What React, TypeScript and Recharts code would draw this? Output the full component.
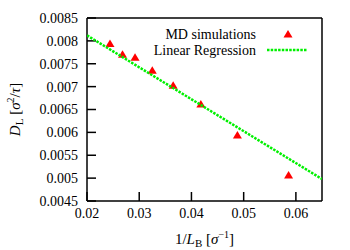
import React from 'react';
import { ScatterChart, Scatter, XAxis, YAxis, Legend } from 'recharts';

// MD simulation points: 1/L_B vs D_L
const invLB = [0.0244, 0.0268, 0.0292, 0.0325, 0.0365, 0.0418, 0.0488, 0.0586];
const diffL = [0.00794, 0.00771, 0.00764, 0.00736, 0.00703, 0.00662, 0.00594, 0.00507];

// linear regression end points
const fitX = [0.02, 0.065];
const fitY = [0.00812, 0.00498];

const xTicks = [0.02, 0.03, 0.04, 0.05, 0.06];
const yTicks = [0.0045, 0.005, 0.0055, 0.006, 0.0065, 0.007, 0.0075, 0.008, 0.0085];

const simData = invLB.map((x, i) => ({ x, y: diffL[i] }));
const fitData = fitX.map((x, i) => ({ x, y: fitY[i] }));

const FONT = '"Liberation Serif", "DejaVu Serif", serif';
const GREEN = '#00f000';
const RED = '#ff0000';

const Triangle = (props: any) => {
  const { cx, cy } = props;
  if (cx == null || cy == null) return <g />;
  return <polygon points={`${cx - 4.5},${cy + 3.5} ${cx + 4.5},${cy + 3.5} ${cx},${cy - 4}`} fill={RED} />;
};

const XLabel = (props: any) => {
  const vb = props.viewBox || {};
  const cx = vb.x + vb.width / 2;
  return (
    <text x={cx} y={244} textAnchor="middle" fontFamily={FONT} fontSize={15} fill="#000">
      <tspan>1/</tspan>
      <tspan fontStyle="italic">L</tspan>
      <tspan fontSize={11} dy={3}>B</tspan>
      <tspan dy={-3}> [</tspan>
      <tspan fontStyle="italic">σ</tspan>
      <tspan fontSize={10} dy={-6}>−1</tspan>
      <tspan dy={6}>]</tspan>
    </text>
  );
};

const YLabel = (props: any) => {
  const vb = props.viewBox || {};
  const cy = vb.y + vb.height / 2;
  const x = 20;
  return (
    <text
      x={x}
      y={cy}
      transform={`rotate(-90, ${x}, ${cy})`}
      textAnchor="middle"
      fontFamily={FONT}
      fontSize={15}
      fill="#000"
    >
      <tspan fontStyle="italic">D</tspan>
      <tspan fontSize={11} dy={3}>L</tspan>
      <tspan dy={-3}> [</tspan>
      <tspan fontStyle="italic">σ</tspan>
      <tspan fontSize={10} dy={-6}>2</tspan>
      <tspan dy={6}>/</tspan>
      <tspan fontStyle="italic">τ</tspan>
      <tspan>]</tspan>
    </text>
  );
};

const LegendBox = (props: any) => {
  // points entry first, then the fit line
  const payload = [...(props.payload || [])].sort(
    (a: any, b: any) => (a.type === 'triangle' ? 0 : 1) - (b.type === 'triangle' ? 0 : 1)
  );
  return (
    <svg width={180} height={40} style={{ display: 'block' }}>
      {payload.map((entry: any, i: number) => {
        const y = 10 + i * 16;
        return (
          <g key={`leg-${i}`}>
            <text x={116} y={y + 5} textAnchor="end" fontFamily={FONT} fontSize={14} fill="#000">
              {entry.value}
            </text>
            {entry.type === 'triangle' ? (
              <Triangle cx={148} cy={y} />
            ) : (
              <line x1={127} x2={167} y1={y} y2={y} stroke={GREEN} strokeWidth={2.5} strokeDasharray="2.5 1.2" />
            )}
          </g>
        );
      })}
    </svg>
  );
};

const tickStyle = { fill: '#000', fontSize: 14, fontFamily: FONT };
const lineStyle = { stroke: '#000', strokeWidth: 1.5 };

export default function App() {
  return (
    <div style={{ position: 'absolute', left: 0, top: 0, width: 350, height: 250, background: '#fff' }}>
      <ScatterChart width={350} height={250} margin={{ top: 17, right: 27, bottom: 0, left: 0 }}>
        <XAxis
          type="number"
          dataKey="x"
          domain={[0.02, 0.065]}
          ticks={xTicks}
          interval={0}
          allowDataOverflow
          height={49}
          tickSize={-9}
          tickMargin={16}
          tick={tickStyle}
          axisLine={lineStyle}
          tickLine={lineStyle}
          label={{ content: XLabel }}
        />
        <XAxis
          xAxisId="top"
          orientation="top"
          type="number"
          dataKey="x"
          domain={[0.02, 0.065]}
          ticks={xTicks}
          interval={0}
          allowDataOverflow
          height={1}
          tickSize={-9}
          tick={false}
          axisLine={lineStyle}
          tickLine={lineStyle}
        />
        <YAxis
          type="number"
          dataKey="y"
          domain={[0.0045, 0.0085]}
          ticks={yTicks}
          interval={0}
          allowDataOverflow
          width={87}
          tickSize={-9}
          tickMargin={18}
          tick={tickStyle}
          axisLine={lineStyle}
          tickLine={lineStyle}
          label={{ content: YLabel }}
        />
        <YAxis
          yAxisId="right"
          orientation="right"
          type="number"
          dataKey="y"
          domain={[0.0045, 0.0085]}
          ticks={yTicks}
          interval={0}
          allowDataOverflow
          width={1}
          tickSize={-9}
          tick={false}
          axisLine={lineStyle}
          tickLine={lineStyle}
        />
        <Legend
          layout="vertical"
          align="center"
          verticalAlign="middle"
          wrapperStyle={{ left: 140, top: 24, width: 180, height: 40 }}
          content={LegendBox}
        />
        <Scatter
          name="MD simulations"
          data={simData}
          shape={Triangle}
          legendType="triangle"
          isAnimationActive={false}
        />
        <Scatter
          name="Linear Regression"
          data={fitData}
          shape={() => <g />}
          line={{ stroke: GREEN, strokeWidth: 2.5, strokeDasharray: '2.5 1.2' }}
          legendType="line"
          isAnimationActive={false}
        />
      </ScatterChart>
    </div>
  );
}
